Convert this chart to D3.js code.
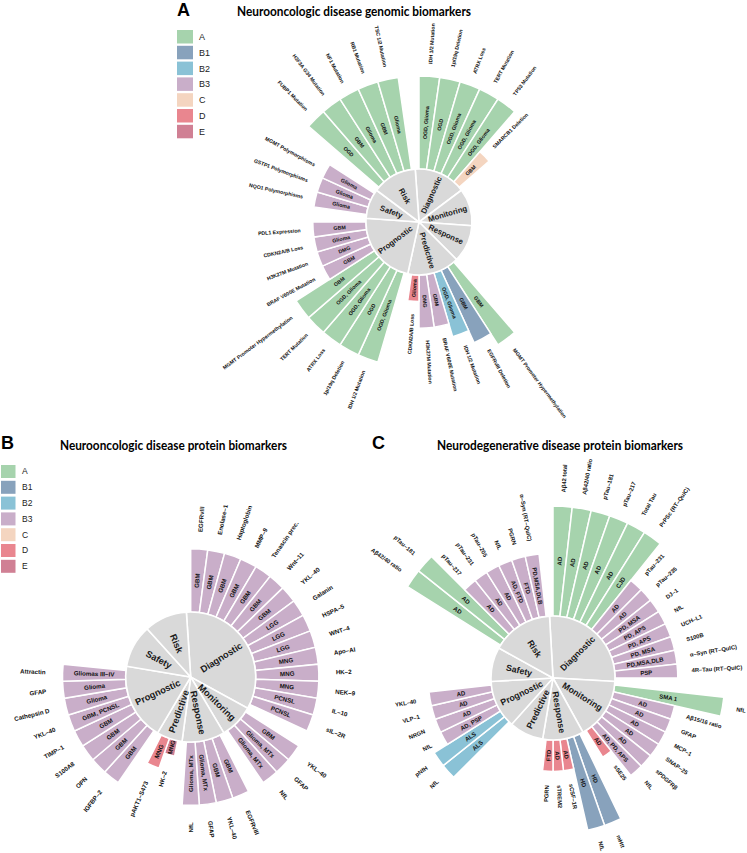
<!DOCTYPE html>
<html><head><meta charset="utf-8">
<script src="https://cdn.jsdelivr.net/npm/d3@7"></script>
<style>body{margin:0;background:#fff} svg{display:block} text{font-family:"Liberation Sans",Arial,sans-serif}</style>
</head><body><svg id="c" width="747" height="853"></svg>
<script>
// ---------- shared data ----------
const classes = ["A","B1","B2","B3","C","D","E"];
const classColors = ["#a6d3ad","#88a2bc","#8ac2d6","#c9aec9","#f4d5c0","#e9868f","#d08094"];
const classLevels = [7,6,5,4,3,2,1];
const categories = ["Diagnostic","Monitoring","Response","Predictive","Prognostic","Safety","Risk"];
const emptySlots = 4;

// ---------- Panel A: genomic ----------
const aMarkers = ["IDH 1/2 Mutation","1p/19q Deletion","ATRX Loss","TERT Mutation","TP53 Mutation","SMARCB1 Deletion",
  "MGMT Promoter Hypermethylation","EGFRvIII Deletion","IDH 1/2 Mutation","BRAF V600E Mutation","H3K27M Mutation","CDKN2A/B Loss",
  "IDH 1/2 Mutation","1p/19q Deletion","ATRX Loss","TERT Mutation","MGMT Promoter Hypermethylation","BRAF V600E Mutation","H3K27M Mutation","CDKN2A/B Loss","PDL1 Expression",
  "NQO1 Polymorphisms","GSTP1 Polymorphisms","MGMT Polymorphisms",
  "FUBP1 Mutation","H3F3A G34 Mutation","NF1 Mutation","RB1 Mutation","TSC 1/2 Mutation"];
const aDiseases = ["OGD, Glioma","OGD","OGD, Glioma","OGD, Glioma","OGD, Glioma","GBM",
  "GBM","GBM","OGD, Glioma","GBM","DMG","Glioma",
  "OGD, Glioma","OGD","OGD, Glioma","OGD, Glioma","GBM","GBM","DMG","Glioma","GBM",
  "Glioma","Glioma","Glioma",
  "OGD","GBM","Glioma","GBM","Glioma"];
const aClasses = ["A","A","A","A","A","C",
  "A","B1","B2","B3","B3","D",
  "A","A","A","A","A","B3","B3","B3","B3",
  "B3","B3","B3",
  "A","A","A","A","A"];
const aCats = ["Diagnostic","Diagnostic","Diagnostic","Diagnostic","Diagnostic","Diagnostic",
  "Predictive","Predictive","Predictive","Predictive","Predictive","Predictive",
  "Prognostic","Prognostic","Prognostic","Prognostic","Prognostic","Prognostic","Prognostic","Prognostic","Prognostic",
  "Safety","Safety","Safety",
  "Risk","Risk","Risk","Risk","Risk"];

// ---------- Panel B: neurooncologic proteins ----------
const bMarkers = ["EGFRvIII","Enolase–1","Haptoglobin","MMP–9","Tenascin prec.","Wnt–11","YKL–40","Galanin","HSPA–5","WNT–4","Apo–AI","HK–2","NEK–9","IL–10","sIL–2R",
  "YKL–40","GFAP","NfL",
  "EGFRvIII","YKL–40","GFAP","NfL",
  "HK–2","pAKT1–S473",
  "IGFBP–2","OPN","S100A8","TIMP–1","YKL–40","Cathepsin D","GFAP","Attractin"];
const bDiseases = ["GBM","GBM","GBM","GBM","GBM","GBM","GBM","LGG","LGG","LGG","MNG","MNG","MNG","PCNSL","PCNSL",
  "GBM","Glioma, MTx","Glioma, MTx",
  "GBM","GBM","Glioma, MTx","Glioma, MTx",
  "MNG","MNG",
  "GBM","GBM","GBM","GBM","GBM, PCNSL","Glioma","Glioma","Gliomas III–IV"];
const bClasses = ["B3","B3","B3","B3","B3","B3","B3","B3","B3","B3","B3","B3","B3","B3","B3",
  "B3","B3","B3",
  "B3","B3","B3","B3",
  "E","D",
  "B3","B3","B3","B3","B3","B3","B3","B3"];
const bCats = ["Diagnostic","Diagnostic","Diagnostic","Diagnostic","Diagnostic","Diagnostic","Diagnostic","Diagnostic","Diagnostic","Diagnostic","Diagnostic","Diagnostic","Diagnostic","Diagnostic","Diagnostic",
  "Monitoring","Monitoring","Monitoring",
  "Response","Response","Response","Response",
  "Predictive","Predictive",
  "Prognostic","Prognostic","Prognostic","Prognostic","Prognostic","Prognostic","Prognostic","Prognostic"];

// ---------- Panel C: neurodegenerative proteins ----------
const cMarkers = ["Aβ42 total","Aβ42/40 ratio","pTau–181","pTau–217","Total Tau","PrPSc (RT–QuIC)","pTau–231","pTau–235","DJ–1","NfL","UCH–L1","S100B","α–Syn (RT–QuIC)","4R–Tau (RT–QuIC)",
  "NfL","Aβ15/16 ratio","GFAP","MCP–1","SNAP–25","sPDGFRβ","NfL","sSE25",
  "mHtt","NfL","sCSF–1R","sTREM2","PGRN",
  "NfL","pNfH","NfL","NRGN","VLP–1","YKL–40",
  "Aβ42/40 ratio","pTau–181","pTau–217","pTau–231","pTau–205","NfL","PGRN","α–Syn (RT–QuIC)"];
const cDiseases = ["AD","AD","AD","AD","AD","CJD","AD","AD","PD, MSA","PD, APS","PD, APS","PD, MSA","PD,MSA,DLB","PSP",
  "SMA 1","AD","AD","AD","AD","AD","AD, PD, APS","AD",
  "HD","HD","AD","AD","FTD",
  "ALS","ALS","AD, PSP","AD","AD","AD",
  "AD","AD","AD","AD","AD","AD, FTD","FTD","PD,MSA,DLB"];
const cClasses = ["A","A","A","A","A","A","B3","B3","B3","B3","B3","B3","B3","B3",
  "A","B3","B3","B3","B3","B3","B3","D",
  "B1","B1","D","D","D",
  "B2","B2","B3","B3","B3","B3",
  "A","A","B3","B3","B3","B3","B3","B3"];
const cCats = ["Diagnostic","Diagnostic","Diagnostic","Diagnostic","Diagnostic","Diagnostic","Diagnostic","Diagnostic","Diagnostic","Diagnostic","Diagnostic","Diagnostic","Diagnostic","Diagnostic",
  "Monitoring","Monitoring","Monitoring","Monitoring","Monitoring","Monitoring","Monitoring","Monitoring",
  "Response","Response","Response","Response","Response",
  "Prognostic","Prognostic","Prognostic","Prognostic","Prognostic","Prognostic",
  "Risk","Risk","Risk","Risk","Risk","Risk","Risk","Risk"];

// ---------- drawing ----------
const svg = d3.select("#c");
const color = d3.scaleOrdinal().domain(classes).range(classColors);
const level = d3.scaleOrdinal().domain(classes).range(classLevels);

const panels = [
  {markers:aMarkers, diseases:aDiseases, classes:aClasses, cats:aCats, cx:419, cy:222, R:53, u:13.3, catFont:7.8, labFont:5.2, inFont:5.3, labOff:12.5},
  {markers:bMarkers, diseases:bDiseases, classes:bClasses, cats:bCats, cx:190.7, cy:677, R:65, u:15.8, catFont:9.3, labFont:6.2, inFont:6.2, labOff:17},
  {markers:cMarkers, diseases:cDiseases, classes:cClasses, cats:cCats, cx:553, cy:678, R:62, u:15.7, catFont:8.8, labFont:5.8, inFont:6.0, labOff:14}
];

function placeText(sel, theta, r, anchorOut){
  const deg = theta*180/Math.PI;
  const x = r*Math.sin(theta), y = -r*Math.cos(theta);
  const right = deg < 180;
  const rot = right ? deg-90 : deg+90;
  sel.attr("transform", `translate(${x},${y}) rotate(${rot})`)
     .attr("text-anchor", anchorOut ? (right ? "start" : "end") : "middle")
     .attr("dy","0.35em");
}

panels.forEach(p=>{
  const g = svg.append("g").attr("transform", `translate(${p.cx},${p.cy})`);
  let slot = 0; const bars = []; const sectors = [];
  categories.forEach(c=>{
    const idx = p.cats.map((d,i)=>d===c?i:-1).filter(i=>i>=0);
    const start = slot;
    idx.forEach(i=>{ bars.push({i, slot: slot++}); });
    if(idx.length===0) slot += emptySlots;
    sectors.push({cat:c, s0:start-0.5, s1:slot+0.5});
    slot += 1;
  });
  const N = slot;
  const ang = d3.scaleLinear().domain([0,N]).range([0,2*Math.PI]);
  const rad = d3.scaleLinear().domain([0,7]).range([p.R, p.R+7*p.u]);

  // bars
  const barArc = d3.arc().innerRadius(p.R)
    .outerRadius(d=>rad(level(p.classes[d.i])))
    .startAngle(d=>ang(d.slot)).endAngle(d=>ang(d.slot+1));
  g.selectAll("path.bar").data(bars).join("path").attr("class","bar")
    .attr("d", barArc).attr("fill", d=>color(p.classes[d.i]))
    .attr("stroke","#fff").attr("stroke-width",1.5);

  // pie
  const pieArc = d3.arc().innerRadius(0).outerRadius(p.R)
    .startAngle(d=>ang(d.s0)).endAngle(d=>ang(d.s1));
  g.selectAll("path.pie").data(sectors).join("path").attr("class","pie")
    .attr("d", pieArc).attr("fill","#d9d9d9").attr("stroke","#fff").attr("stroke-width",1.6);

  // category labels
  sectors.forEach(s=>{
    const t = g.append("text").text(s.cat)
      .attr("font-size", p.catFont).attr("font-weight","bold").attr("fill","#1a1a1a");
    placeText(t, ang((s.s0+s.s1)/2), p.R*0.56, false);
  });

  // inner disease labels
  bars.forEach(b=>{
    const rOut = rad(level(p.classes[b.i]));
    const t = g.append("text").text(p.diseases[b.i])
      .attr("font-size", p.inFont).attr("font-weight","bold").attr("fill","#111");
    placeText(t, ang(b.slot+0.5), (p.R+rOut)/2, false);
  });

  // outer biomarker labels
  bars.forEach(b=>{
    const rOut = rad(level(p.classes[b.i]));
    const t = g.append("text").text(p.markers[b.i])
      .attr("font-size", p.labFont).attr("font-weight","bold").attr("fill","#111");
    placeText(t, ang(b.slot+0.5), rOut + p.labOff, true);
  });
});

// legends
function legend(x, y, w, h, step, fs, tx){
  const lg = svg.append("g");
  classes.forEach((c,i)=>{
    lg.append("rect").attr("x",x).attr("y",y+i*step).attr("width",w).attr("height",h).attr("fill",color(c));
    lg.append("text").attr("x",tx).attr("y",y+i*step+h/2).attr("dy","0.35em")
      .attr("font-size",fs).attr("fill","#222").text(c);
  });
}
legend(177, 30, 16, 13.5, 15.8, 9, 199);
legend(1, 465, 14.5, 13, 15.8, 8.5, 22);

// titles
function title(letter, lx, ly, txt, tx, tw, ty){
  svg.append("text").attr("x",lx).attr("y",ly).attr("font-size",18).attr("font-weight","bold")
    .style("font-family","'Liberation Sans',Arial,sans-serif").text(letter);
  svg.append("text").attr("x",tx).attr("y",ty).attr("font-size",12.5).attr("font-weight","bold")
    .style("font-family","Lato,'Open Sans',sans-serif")
    .attr("textLength",tw).attr("lengthAdjust","spacingAndGlyphs").text(txt);
}
title("A", 177, 16, "Neurooncologic disease genomic biomarkers", 237, 234, 16);
title("B", 1, 449, "Neurooncologic disease protein biomarkers", 60, 227, 450);
title("C", 372, 449, "Neurodegenerative disease protein biomarkers", 437, 246, 450);
</script></body></html>
